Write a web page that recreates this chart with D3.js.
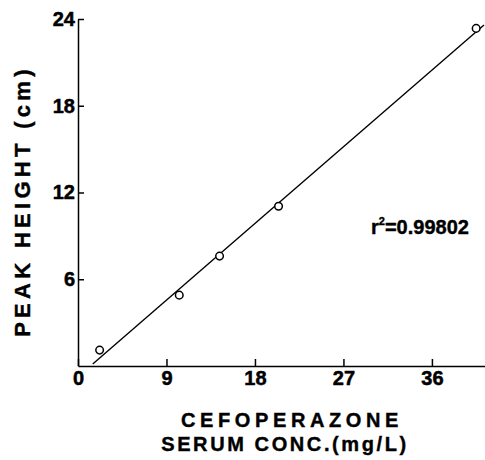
<!DOCTYPE html>
<html>
<head>
<meta charset="utf-8">
<script src="https://cdn.jsdelivr.net/npm/d3@7"></script>
<style>
body { margin: 0; background: white; }
.axis path, .axis line { fill: none; stroke: black; stroke-width: 1.5; }
.axis text { font-family: "Liberation Sans", Arial, sans-serif; font-weight: bold; font-size: 20px; fill: black; stroke: black; stroke-width: 0.5; }
.lbl { font-family: "Liberation Sans", Arial, sans-serif; font-weight: bold; fill: black; stroke: black; stroke-width: 0.4; }
</style>
</head>
<body>
<script>
// data
const conc = [2.2, 10.3, 14.4, 20.4, 40.5];
const peak = [1.1, 4.9, 7.6, 11.05, 23.35];
const fitRange = [1.5, 41.3];
const xTicks = [0, 9, 18, 27, 36];
const yTicks = [6, 12, 18, 24];

const svg = d3.select("body").append("svg")
  .attr("width", 485).attr("height", 460);

const x = d3.scaleLinear().domain([0, 41.4]).range([78, 485]);
const y = d3.scaleLinear().domain([0, 24]).range([366, 19]);

// least squares fit
const mx = d3.mean(conc), my = d3.mean(peak);
const slope = d3.sum(conc, (v, i) => (v - mx) * (peak[i] - my)) / d3.sum(conc, v => (v - mx) ** 2);
const icpt = my - slope * mx;

svg.append("g").attr("class", "axis")
  .attr("transform", `translate(0,${y(0)})`)
  .call(d3.axisBottom(x).tickValues(xTicks).tickSize(-7).tickSizeOuter(0).tickPadding(5));

svg.append("g").attr("class", "axis")
  .attr("transform", `translate(${x(0)},0)`)
  .call(d3.axisLeft(y).tickValues(yTicks).tickSize(-6).tickSizeOuter(0).tickPadding(3));

const line = d3.line().x(d => x(d)).y(d => y(slope * d + icpt));
svg.append("path").datum(fitRange)
  .attr("d", line).attr("fill", "none").attr("stroke", "black").attr("stroke-width", 1.4);

svg.selectAll("circle.pt").data(conc).enter().append("circle")
  .attr("class", "pt")
  .attr("cx", d => x(d)).attr("cy", (d, i) => y(peak[i]))
  .attr("r", 3.8).attr("fill", "white").attr("stroke", "black").attr("stroke-width", 1.5);

const r2 = svg.append("text").attr("class", "lbl")
  .attr("x", 371).attr("y", 234).attr("font-size", 20);
r2.append("tspan").text("r");
r2.append("tspan").attr("font-size", 11).attr("dy", -9).text("2");
r2.append("tspan").attr("dy", 9).text("=0.99802");

svg.append("text").attr("class", "lbl")
  .attr("font-size", 22).attr("letter-spacing", 4.3)
  .attr("text-anchor", "middle")
  .attr("transform", "translate(30,201) rotate(-90)")
  .text("PEAK HEIGHT (cm)");

svg.append("text").attr("class", "lbl")
  .attr("font-size", 20).attr("letter-spacing", 4.6)
  .attr("text-anchor", "middle")
  .attr("x", 292).attr("y", 427)
  .text("CEFOPERAZONE");

svg.append("text").attr("class", "lbl")
  .attr("font-size", 20).attr("letter-spacing", 2.6)
  .attr("text-anchor", "middle")
  .attr("x", 285).attr("y", 451)
  .text("SERUM CONC.(mg/L)");
</script>
</body>
</html>
